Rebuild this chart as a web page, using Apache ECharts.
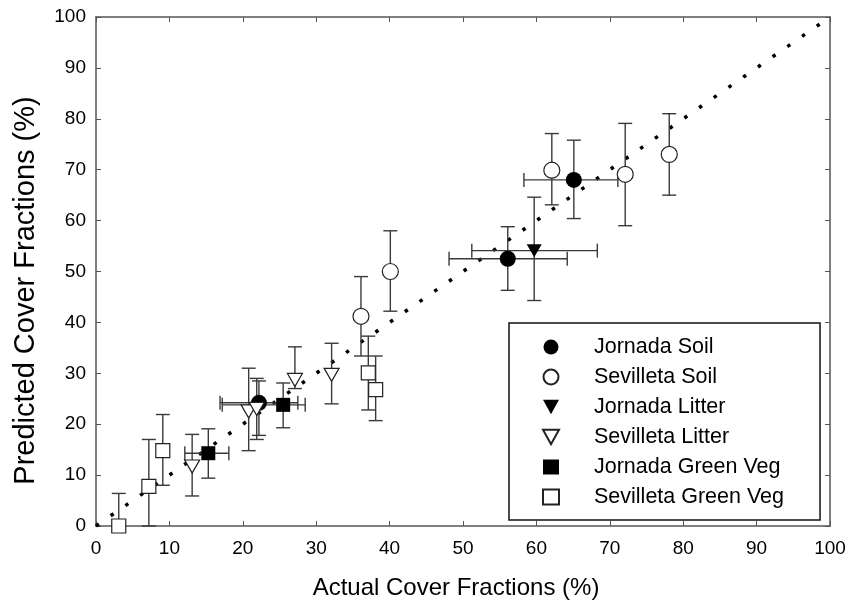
<!DOCTYPE html>
<html>
<head>
<meta charset="utf-8">
<script src="https://cdn.jsdelivr.net/npm/echarts@6/dist/echarts.min.js"></script>
<style>
  html, body { margin: 0; background: #fff; }
  #chart { width: 850px; height: 605px; }
</style>
</head>
<body>
<div id="chart"></div>
<script>
// 每列: [實際值 x, 預測值 y, y下限, y上限, x下限, x上限]
const jornadaSoil = [
  [22.2, 24.2, 17.8, 28.5, 16.9, 27.5],
  [56.1, 52.5, 46.3, 58.8, 48.1, 64.2],
  [65.1, 68.0, 60.4, 75.8, 58.3, 71.1],
]
const sevilletaSoil = [
  [36.1, 41.2, 33.4, 49.0, null, null],
  [40.1, 50.0, 42.2, 58.0, null, null],
  [62.1, 69.9, 63.1, 77.1, null, null],
  [72.1, 69.1, 59.0, 79.1, null, null],
  [78.1, 73.0, 65.0, 81.0, null, null],
]
const jornadaLitter = [
  [59.7, 54.1, 44.3, 64.6, 51.2, 68.3],
]
const sevilletaLitter = [
  [13.1, 11.7, 5.9, 18.0, null, null],
  [20.8, 22.5, 14.8, 31.0, null, null],
  [21.9, 23.0, 17.0, 29.0, null, null],
  [27.1, 28.7, 27.0, 35.2, null, null],
  [32.1, 29.7, 24.0, 35.9, null, null],
]
const jornadaGreenVeg = [
  [15.3, 14.3, 9.4, 19.1, 12.1, 18.1],
  [25.5, 23.8, 19.3, 28.1, 17.2, 28.5],
]
const sevilletaGreenVeg = [
  [3.1, 0.0, 0.0, 6.4, null, null],
  [7.2, 7.8, 0.0, 17.0, null, null],
  [9.1, 14.8, 8.0, 21.9, null, null],
  [37.1, 30.1, 22.8, 37.3, null, null],
  [38.1, 26.8, 20.7, 33.4, null, null],
]
// 1:1 參考線端點
const oneToOne = [[0, 0], [99, 99]]

const groups = [
  { name: 'Jornada Soil', rows: jornadaSoil, symbol: 'circle', size: 16, fill: '#000' },
  { name: 'Sevilleta Soil', rows: sevilletaSoil, symbol: 'circle', size: 16, fill: '#fff' },
  { name: 'Jornada Litter', rows: jornadaLitter, symbol: 'path://M0,0L10,0L5,9Z', size: [15, 13], fill: '#000' },
  { name: 'Sevilleta Litter', rows: sevilletaLitter, symbol: 'path://M0,0L10,0L5,9Z', size: [15, 13], fill: '#fff' },
  { name: 'Jornada Green Veg', rows: jornadaGreenVeg, symbol: 'rect', size: 14, fill: '#000' },
  { name: 'Sevilleta Green Veg', rows: sevilletaGreenVeg, symbol: 'rect', size: 14, fill: '#fff' },
]

const FONT = '"Liberation Sans", Arial, sans-serif'
const axisColor = '#555'
const cap = 7 // 誤差棒端帽半寬

const myChart = echarts.init(document.getElementById('chart'))

// 誤差棒
const renderErrorBar = (params, api) => {
  const x = api.value(0)
  const y = api.value(1)
  const yLo = api.value(2)
  const yHi = api.value(3)
  const xLo = api.value(4)
  const xHi = api.value(5)
  const style = { stroke: '#3a3a3a', lineWidth: 1.4 }
  const children = []
  if (isFinite(yLo) && isFinite(yHi) && yLo !== null) {
    const lo = api.coord([x, yLo])
    const hi = api.coord([x, yHi])
    children.push({ type: 'line', shape: { x1: lo[0], y1: lo[1], x2: hi[0], y2: hi[1] }, style })
    children.push({ type: 'line', shape: { x1: lo[0] - cap, y1: lo[1], x2: lo[0] + cap, y2: lo[1] }, style })
    children.push({ type: 'line', shape: { x1: hi[0] - cap, y1: hi[1], x2: hi[0] + cap, y2: hi[1] }, style })
  }
  if (isFinite(xLo) && isFinite(xHi) && xLo !== null) {
    const lo = api.coord([xLo, y])
    const hi = api.coord([xHi, y])
    children.push({ type: 'line', shape: { x1: lo[0], y1: lo[1], x2: hi[0], y2: hi[1] }, style })
    children.push({ type: 'line', shape: { x1: lo[0], y1: lo[1] - cap, x2: lo[0], y2: lo[1] + cap }, style })
    children.push({ type: 'line', shape: { x1: hi[0], y1: hi[1] - cap, x2: hi[0], y2: hi[1] + cap }, style })
  }
  return { type: 'group', children }
}

const allRows = groups.flatMap((g) => g.rows)

const baseX = {
  type: 'value',
  min: 0,
  max: 100,
  interval: 10,
  splitLine: { show: false },
  axisLine: { show: true, onZero: false, lineStyle: { color: axisColor, width: 1.5 } },
  axisTick: { show: true, inside: true, length: 5, lineStyle: { color: axisColor, width: 1 } },
}

const option = {
  animation: false,
  backgroundColor: '#fff',
  grid: { left: 96, right: 20, top: 17, bottom: 76 },
  legend: {
    orient: 'vertical',
    left: 509,
    top: 323,
    padding: [13, 36, 12, 33],
    itemGap: 8,
    itemWidth: 16,
    itemHeight: 15,
    borderColor: '#111',
    borderWidth: 1.5,
    backgroundColor: '#fff',
    textStyle: { fontFamily: FONT, fontSize: 21.5, color: '#000', padding: [0, 0, 0, 30] },
    data: groups.map((g) => g.name),
  },
  xAxis: [
    {
      ...baseX,
      position: 'bottom',
      axisLabel: { fontFamily: FONT, fontSize: 19, color: '#000', margin: 13 },
      name: 'Actual Cover Fractions (%)',
      nameLocation: 'middle',
      nameGap: 50,
      nameTextStyle: { fontFamily: FONT, fontSize: 24, color: '#000', padding: [0, 14, 0, 0] },
    },
    { ...baseX, position: 'top', axisLabel: { show: false } },
  ],
  yAxis: [
    {
      ...baseX,
      position: 'left',
      axisLabel: { fontFamily: FONT, fontSize: 19, color: '#000', margin: 10 },
      name: 'Predicted Cover Fractions (%)',
      nameLocation: 'middle',
      nameGap: 56,
      nameTextStyle: { fontFamily: FONT, fontSize: 29, color: '#000', padding: [0, 38, 0, 0] },
    },
    { ...baseX, position: 'right', axisLabel: { show: false } },
  ],
  series: [
    {
      name: '1:1',
      type: 'line',
      data: oneToOne,
      symbol: 'none',
      silent: true,
      z: 1,
      lineStyle: { color: '#000', width: 3.5, type: [3.5, 14.4] },
    },
    {
      name: 'errors',
      type: 'custom',
      renderItem: renderErrorBar,
      data: allRows,
      encode: { x: 0, y: 1 },
      z: 2,
      silent: true,
    },
    ...groups.map((g) => ({
      name: g.name,
      type: 'scatter',
      data: g.rows.map((r) => [r[0], r[1]]),
      symbol: g.symbol,
      symbolSize: g.size,
      z: 3,
      itemStyle: { color: g.fill, borderColor: '#222', borderWidth: g.fill === '#fff' ? 1.2 : 0, opacity: 1 },
    })),
  ],
}

myChart.setOption(option, true)
</script>
</body>
</html>
